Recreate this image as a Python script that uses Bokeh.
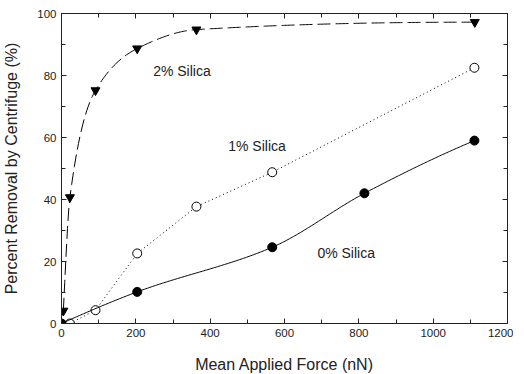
import numpy as np
from bokeh.plotting import figure
from bokeh.models import LinearAxis, SingleIntervalTicker, Range1d, Label, CustomJSTickFormatter
from bokeh.embed import file_html
from bokeh.resources import INLINE

# ---- data ----
force_2 = [5, 22.6, 91.5, 203.7, 363, 1112]
removal_2 = [4.1, 40.7, 75.2, 88.7, 94.8, 97.2]

force_1 = [22.6, 91.5, 203.7, 363, 567, 1111]
removal_1 = [0.0, 4.3, 22.6, 37.7, 48.8, 82.5]

force_0 = [0, 203.7, 567, 815, 1111]
removal_0 = [0.0, 10.2, 24.6, 42.0, 59.0]

series_labels = ["2% Silica", "1% Silica", "0% Silica"]
label_x = [324, 526, 766]
label_y = [81.3, 57.4, 22.8]

FONT = "Liberation Sans"


def pchip(x, y, n=300):
    x = np.asarray(x, float)
    y = np.asarray(y, float)
    h = np.diff(x)
    delta = np.diff(y) / h
    m = len(x)
    d = np.zeros(m)
    for k in range(1, m - 1):
        if delta[k - 1] * delta[k] <= 0:
            d[k] = 0.0
        else:
            w1 = 2 * h[k] + h[k - 1]
            w2 = h[k] + 2 * h[k - 1]
            d[k] = (w1 + w2) / (w1 / delta[k - 1] + w2 / delta[k])

    def end(h0, h1, d0, d1):
        v = ((2 * h0 + h1) * d0 - h0 * d1) / (h0 + h1)
        if np.sign(v) != np.sign(d0):
            v = 0.0
        elif np.sign(d0) != np.sign(d1) and abs(v) > abs(3 * d0):
            v = 3 * d0
        return v

    d[0] = end(h[0], h[1], delta[0], delta[1])
    d[-1] = end(h[-1], h[-2], delta[-1], delta[-2])
    xs = np.linspace(x[0], x[-1], n)
    idx = np.clip(np.searchsorted(x, xs) - 1, 0, m - 2)
    t = (xs - x[idx]) / h[idx]
    h00 = 2 * t**3 - 3 * t**2 + 1
    h10 = t**3 - 2 * t**2 + t
    h01 = -2 * t**3 + 3 * t**2
    h11 = t**3 - t**2
    ys = h00 * y[idx] + h10 * h[idx] * d[idx] + h01 * y[idx + 1] + h11 * h[idx] * d[idx + 1]
    return xs, ys


p = figure(
    frame_width=446, frame_height=310,
    x_range=Range1d(0, 1200), y_range=Range1d(0, 100),
    output_backend="svg", toolbar_location=None,
    x_axis_label="Mean Applied Force (nN)",
    y_axis_label="Percent Removal by Centrifuge (%)",
    min_border_left=60, min_border_right=6, min_border_top=13, min_border_bottom=46,
)
p.grid.visible = False
p.outline_line_color = "#222222"
p.background_fill_color = "white"
p.border_fill_color = "white"

bottom = p.below[0]
left = p.left[0]
bottom.ticker = SingleIntervalTicker(interval=200, num_minor_ticks=2)
left.ticker = SingleIntervalTicker(interval=20, num_minor_ticks=2)

blank = CustomJSTickFormatter(code="return ''")
top = LinearAxis(ticker=SingleIntervalTicker(interval=200, num_minor_ticks=2), formatter=blank)
right = LinearAxis(ticker=SingleIntervalTicker(interval=20, num_minor_ticks=2), formatter=blank)
p.add_layout(top, "above")
p.add_layout(right, "right")

for ax in [bottom, left, top, right]:
    ax.major_tick_in = 5
    ax.major_tick_out = 0
    ax.minor_tick_in = 4
    ax.minor_tick_out = 0
    ax.axis_line_color = "#222222"
    ax.major_tick_line_color = "#222222"
    ax.minor_tick_line_color = "#222222"
    ax.major_label_text_font = FONT
    ax.major_label_text_font_size = "11.5px"
    ax.major_label_text_color = "#222222"
    ax.axis_label_text_font = FONT
    ax.axis_label_text_font_size = "16px"
    ax.axis_label_text_font_style = "normal"
    ax.axis_label_text_color = "#222222"

for ax in [top, right]:
    ax.major_label_standoff = 0

bottom.major_label_standoff = 5
left.major_label_standoff = 5
bottom.axis_label_standoff = 16
left.axis_label_standoff = 14

# 2% silica: dashed smooth curve, inverted triangles
xs, ys = pchip(force_2, removal_2)
p.line(xs, ys, line_color="black", line_width=1, line_dash="13 5")
p.scatter(force_2, removal_2, marker="inverted_triangle", size=9,
          fill_color="black", line_color="black")

# 1% silica: dotted line, open circles
p.line(force_1, removal_1, line_color="black", line_width=1, line_dash="1 3")
p.scatter(force_1, removal_1, marker="circle", size=9,
          fill_color="white", line_color="black", line_width=1)

# 0% silica: solid smooth curve, filled circles
xs0, ys0 = pchip(force_0, removal_0)
p.line(xs0, ys0, line_color="black", line_width=1)
p.scatter(force_0, removal_0, marker="circle", size=9,
          fill_color="black", line_color="black")

for t, lx, ly in zip(series_labels, label_x, label_y):
    p.add_layout(Label(x=lx, y=ly, text=t, text_align="center", text_baseline="middle",
                       text_font=FONT, text_font_size="14px", text_color="#222222"))

open("out.html", "w").write(file_html(p, INLINE))
